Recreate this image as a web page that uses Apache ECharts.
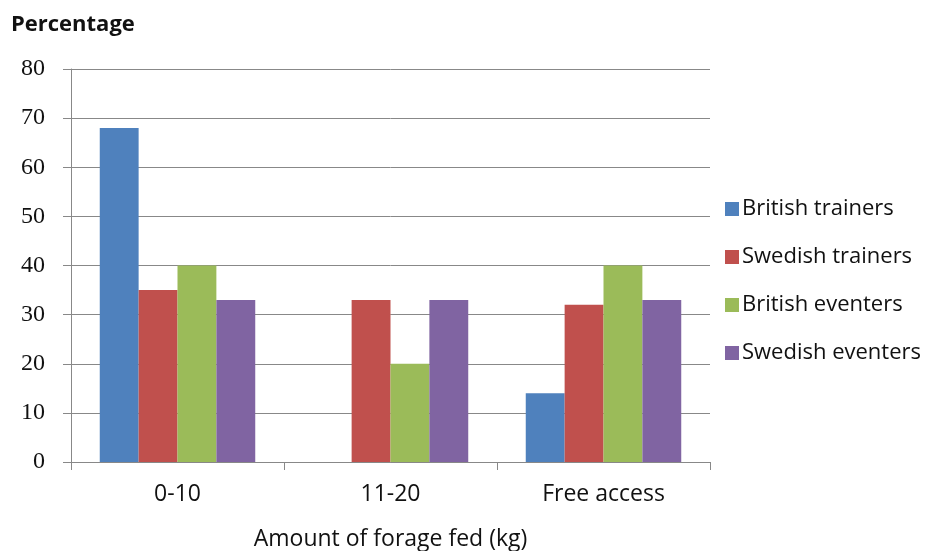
<!DOCTYPE html>
<html>
<head>
<meta charset="utf-8">
<script src="https://cdn.jsdelivr.net/npm/echarts@6/dist/echarts.min.js"></script>
<style>
  html, body { margin: 0; padding: 0; background: #fff; }
  #chart { width: 935px; height: 551px; }
</style>
</head>
<body>
<div id="chart"></div>
<script>
// Forage amounts by respondent group
const categories = ['0-10', '11-20', 'Free access'];
const seriesNames = ['British trainers', 'Swedish trainers', 'British eventers', 'Swedish eventers'];
const britishTrainers = [68, 0, 14];
const swedishTrainers = [35, 33, 32];
const britishEventers = [40, 20, 40];
const swedishEventers = [33, 33, 33];
const yTicks = [0, 10, 20, 30, 40, 50, 60, 70, 80];

const colors = ['#4F81BD', '#C0504D', '#9BBB59', '#8064A2'];
const values = [britishTrainers, swedishTrainers, britishEventers, swedishEventers];
const sans = 'Open Sans';

const chart = echarts.init(document.getElementById('chart'));
chart.setOption({
  animation: false,
  backgroundColor: '#fff',
  color: colors,
  title: {
    text: 'Percentage',
    left: 6,
    top: 9,
    textStyle: { fontFamily: sans, fontWeight: 'bold', fontSize: 22, color: '#111' }
  },
  legend: {
    orient: 'vertical',
    left: 720,
    top: 193,
    itemWidth: 14,
    itemHeight: 14,
    itemGap: 26,
    icon: 'rect',
    textStyle: { fontFamily: sans, fontSize: 22, color: '#111', padding: [0, 0, 0, -2] },
    data: seriesNames
  },
  grid: { left: 71, right: 225, top: 69, bottom: 89, outerBoundsMode: 'none', containLabel: false },
  xAxis: {
    type: 'category',
    data: categories,
    name: 'Amount of forage fed (kg)',
    nameLocation: 'middle',
    nameGap: 66,
    nameTextStyle: { fontFamily: sans, fontSize: 23, color: '#111' },
    axisLine: { lineStyle: { color: '#888', width: 1 } },
    axisTick: { show: true, length: 8, lineStyle: { color: '#888' } },
    axisLabel: { fontFamily: sans, fontSize: 23, color: '#111', margin: 21 }
  },
  yAxis: {
    type: 'value',
    min: yTicks[0],
    max: yTicks[yTicks.length - 1],
    interval: 10,
    axisLine: { show: true, lineStyle: { color: '#888', width: 1 } },
    axisTick: { show: true, length: 8, lineStyle: { color: '#888' } },
    splitLine: { lineStyle: { color: '#888', width: 1 } },
    axisLabel: { fontFamily: 'Liberation Serif', fontSize: 24, color: '#111', margin: 26 }
  },
  series: seriesNames.map((name, i) => ({
    name,
    type: 'bar',
    data: values[i],
    barGap: '0%',
    barCategoryGap: '27%',
    itemStyle: { color: colors[i] }
  }))
});
</script>
</body>
</html>
